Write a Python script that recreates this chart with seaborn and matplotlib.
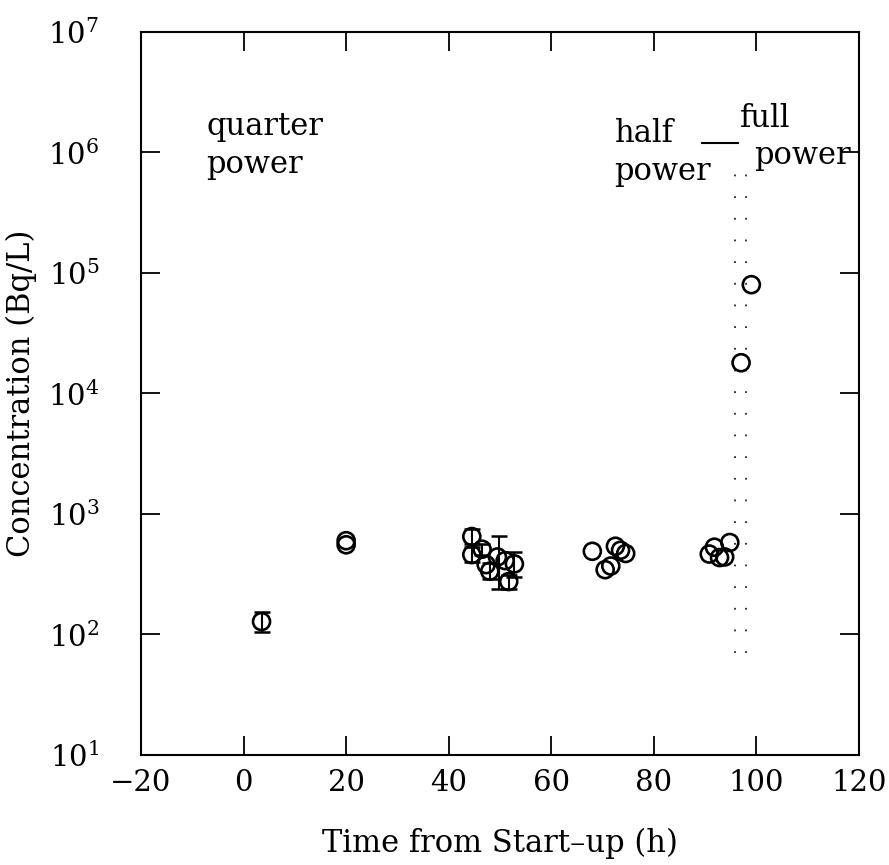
import matplotlib
matplotlib.use("Agg")
import matplotlib.pyplot as plt
import numpy as np
import pandas as pd
import seaborn as sns

# Measured concentrations versus time after start-up
time_h = [3.5, 20.0, 20.0,
          44.5, 44.5, 46.5, 47.3, 48.0, 49.5, 51.0, 51.7, 52.8,
          68.0, 70.5, 71.6, 72.5, 73.5, 74.5,
          90.8, 91.8, 92.8, 93.8, 94.8,
          97.0, 99.0]
conc_bq_l = [128, 600, 555,
             650, 460, 510, 380, 335, 440, 410, 275, 385,
             490, 345, 370, 540, 500, 470,
             465, 530, 435, 440, 580,
             18000, 80000]

# Points that carry uncertainty bars (lower / upper limits)
err_time = [3.5, 44.5, 44.5, 46.5, 48.0, 49.8, 51.7, 52.8]
err_mid = [128, 650, 460, 510, 335, 440, 275, 385]
err_low = [105, 560, 400, 455, 290, 240, 240, 300]
err_high = [155, 750, 530, 560, 395, 660, 310, 480]

x_ticks = [-20, 0, 20, 40, 60, 80, 100, 120]
y_ticks = [1e1, 1e2, 1e3, 1e4, 1e5, 1e6, 1e7]
y_tick_labels = [r"$10^{1}$", r"$10^{2}$", r"$10^{3}$", r"$10^{4}$",
                 r"$10^{5}$", r"$10^{6}$", r"$10^{7}$"]

sns.set_style("ticks")
plt.rcParams["font.family"] = ["DejaVu Serif"]
plt.rcParams["mathtext.fontset"] = "dejavuserif"
plt.rcParams["axes.unicode_minus"] = True
plt.rcParams["text.color"] = "black"
plt.rcParams["axes.labelcolor"] = "black"
plt.rcParams["xtick.color"] = "black"
plt.rcParams["ytick.color"] = "black"

fig = plt.figure(figsize=(8.89, 8.65), dpi=100)
ax = fig.add_axes([0.1586, 0.1272, 0.8077, 0.8358])

df = pd.DataFrame({"t": time_h, "c": conc_bq_l})

lo = np.array(err_mid) - np.array(err_low)
hi = np.array(err_high) - np.array(err_mid)
ax.errorbar(err_time, err_mid, yerr=[lo, hi], fmt="none", ecolor="black",
            elinewidth=1.5, capsize=5.5, capthick=1.8, zorder=2)

sns.scatterplot(data=df, x="t", y="c", ax=ax, marker="o", s=150,
                facecolor="none", edgecolor="black", linewidth=1.9,
                zorder=3, legend=False)

# Power-change boundary
ax.vlines([95.9, 98.0], [7e1, 7e1], [8e5, 8e5], colors="black",
          linestyles=[(0, (1, 11))], linewidth=1.3, alpha=0.85, zorder=1)
ax.hlines(1.2e6, 89.2, 96.6, colors="black", linewidth=1.5)

ax.set_yscale("log")
ax.set_xlim(-20, 120)
ax.set_ylim(1e1, 1e7)
ax.set_xticks(x_ticks)
ax.set_xticklabels([f"{v}".replace("-", "\u2212") for v in x_ticks])
ax.set_yticks(y_ticks)
ax.set_yticklabels(y_tick_labels)
ax.minorticks_off()
ax.tick_params(axis="both", which="major", direction="in", length=14,
               width=1.3, top=True, right=True, labelsize=21,
               color="black")
ax.tick_params(axis="x", pad=10)
ax.tick_params(axis="y", pad=30)
for sp in ax.spines.values():
    sp.set_linewidth(1.5)
    sp.set_color("black")

ax.set_xlabel("Time from Start\u2013up (h)", fontsize=22, labelpad=22)
ax.set_ylabel("Concentration (Bq/L)", fontsize=22, labelpad=8)

ax.text(-7.3, 1.15e6, "quarter\npower", fontsize=22, va="center",
        ha="left", linespacing=1.3)
ax.text(72.3, 1.0e6, "half\npower", fontsize=22, va="center",
        ha="left", linespacing=1.3)
ax.text(96.8, 1.9e6, "full", fontsize=22, va="center", ha="left")
ax.text(99.5, 0.95e6, "power", fontsize=22, va="center", ha="left",
        clip_on=False)

sns.despine(ax=ax, top=False, right=False)
fig.savefig("out.png", dpi=100, facecolor="white")
